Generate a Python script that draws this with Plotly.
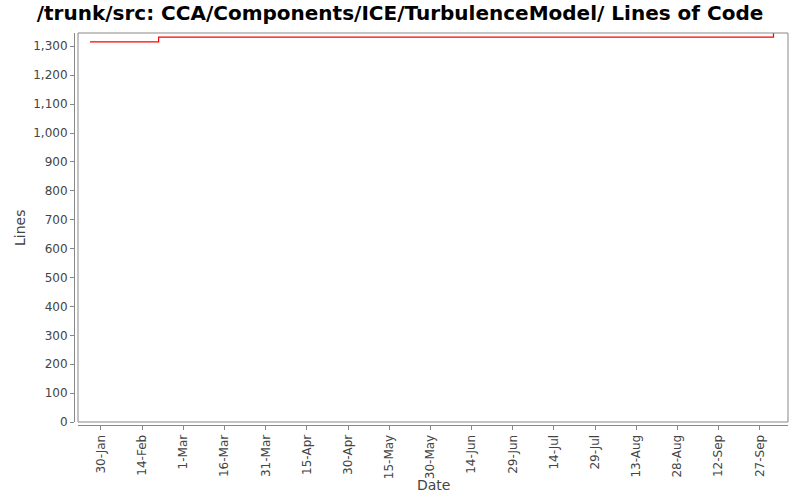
import plotly.graph_objects as go

# lines of code over time (step changes)
dates = ['2006-01-26', '2006-02-20', '2006-10-02']
lines = [1315, 1332, 1346]

tick_dates = ['2006-01-30', '2006-02-14', '2006-03-01', '2006-03-16', '2006-03-31',
              '2006-04-15', '2006-04-30', '2006-05-15', '2006-05-30', '2006-06-14',
              '2006-06-29', '2006-07-14', '2006-07-29', '2006-08-13', '2006-08-28',
              '2006-09-12', '2006-09-27']
tick_labels = ['30-Jan', '14-Feb', '1-Mar', '16-Mar', '31-Mar', '15-Apr', '30-Apr',
               '15-May', '30-May', '14-Jun', '29-Jun', '14-Jul', '29-Jul', '13-Aug',
               '28-Aug', '12-Sep', '27-Sep']
y_ticks = list(range(0, 1301, 100))

fig = go.Figure()
fig.add_trace(go.Scatter(x=dates, y=lines, mode='lines', line_shape='hv',
                         line=dict(color='#ff0000', width=1.2), showlegend=False))

font = dict(family='DejaVu Sans', size=12, color='#444444')
title_font = dict(family='DejaVu Sans', size=14, color='#444444')
fig.update_layout(
    width=800, height=500,
    margin=dict(l=74, r=12, t=33, b=75, autoexpand=False),
    paper_bgcolor='white', plot_bgcolor='white',
    title=dict(text='<b>/trunk/src: CCA/Components/ICE/TurbulenceModel/ Lines of Code</b>',
               x=0.5, xanchor='center', y=0.974, yanchor='middle',
               font=dict(family='DejaVu Sans', size=20, color='black')),
    xaxis=dict(domain=[4 / 714, 1], anchor='free', position=0, automargin=False,
               range=['2006-01-21 15:00', '2006-10-07 07:00'],
               tickvals=tick_dates, ticktext=tick_labels, tickangle=-90,
               showline=True, linecolor='#888888', linewidth=1,
               ticks='outside', ticklen=4, tickcolor='#888888',
               showgrid=False, zeroline=False, tickfont=font),
    yaxis=dict(domain=[3 / 392, 1], anchor='free', position=0, automargin=False,
               range=[0, 1346], tickvals=y_ticks, tickformat=',d',
               showline=True, linecolor='#888888', linewidth=1,
               ticks='outside', ticklen=4, tickcolor='#888888',
               showgrid=False, zeroline=False, tickfont=font),
)
fig.add_shape(type='rect', xref='x domain', yref='y domain', x0=0, x1=1, y0=0, y1=1,
              line=dict(color='#888888', width=1), layer='above')
fig.add_annotation(text='Date', xref='paper', yref='paper', x=0.503, y=-0.153,
                   showarrow=False, font=title_font, xanchor='center', yanchor='middle')
fig.add_annotation(text='Lines', xref='paper', yref='paper', x=-0.0756, y=0.5026,
                   showarrow=False, font=title_font, textangle=-90,
                   xanchor='center', yanchor='middle')

# drop the default page margin so the figure sits at the window's corner
fig.write_html('out.html', config={'displayModeBar': False},
               post_script="document.body.style.margin = '0';")
